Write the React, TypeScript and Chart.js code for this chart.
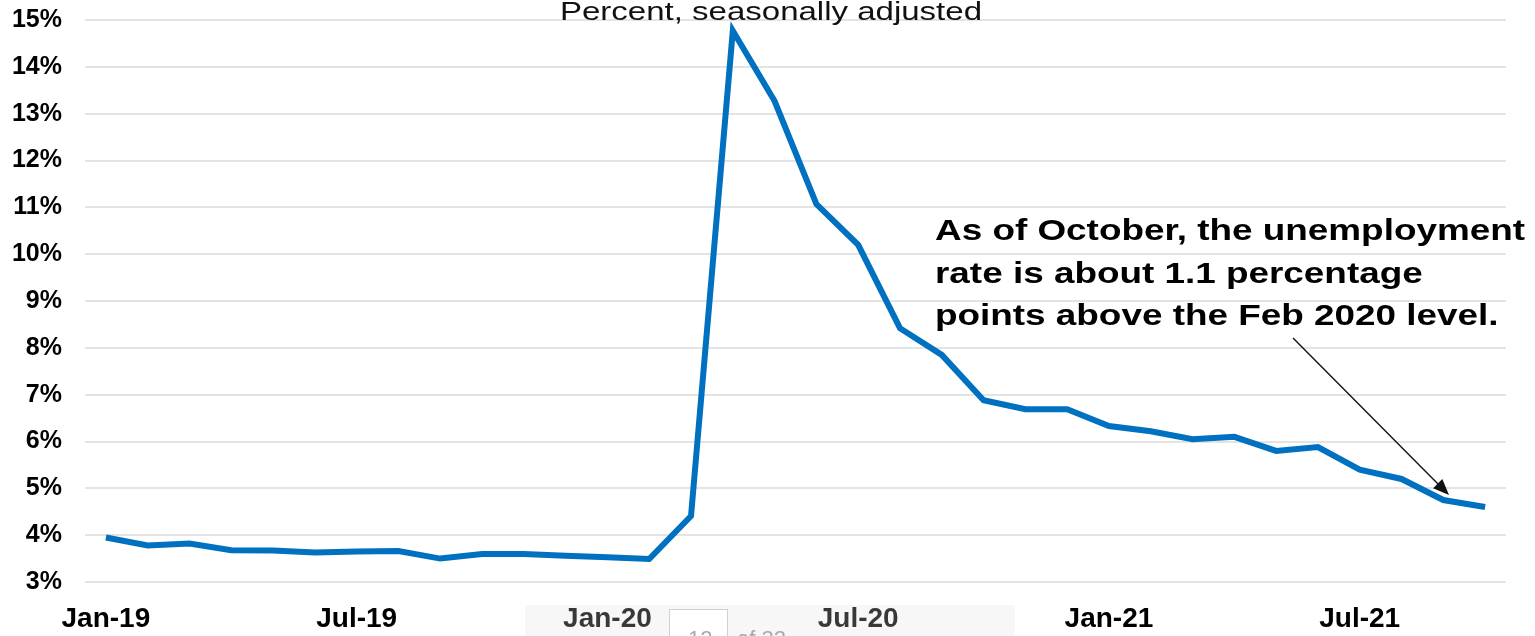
import React, { useEffect, useRef } from "react";
import { Chart, registerables } from "chart.js";

Chart.register(...registerables);

const months = [
  "Jan-19","Feb-19","Mar-19","Apr-19","May-19","Jun-19","Jul-19","Aug-19","Sep-19","Oct-19","Nov-19","Dec-19",
  "Jan-20","Feb-20","Mar-20","Apr-20","May-20","Jun-20","Jul-20","Aug-20","Sep-20","Oct-20","Nov-20","Dec-20",
  "Jan-21","Feb-21","Mar-21","Apr-21","May-21","Jun-21","Jul-21","Aug-21","Sep-21","Oct-21",
];
const unemploymentRate = [
  3.95, 3.78, 3.82, 3.68, 3.67, 3.63, 3.65, 3.66, 3.5, 3.6, 3.6, 3.56,
  3.53, 3.49, 4.41, 14.77, 13.27, 11.07, 10.2, 8.42, 7.85, 6.88, 6.69, 6.69,
  6.33, 6.22, 6.05, 6.1, 5.8, 5.88, 5.4, 5.2, 4.75, 4.6,
];
const shownTickLabels = ["Jan-19", "Jul-19", "Jan-20", "Jul-20", "Jan-21", "Jul-21"];
const yMin = 3;
const yMax = 15;
const titleText = "Percent, seasonally adjusted";
const noteLines = [
  "As of October, the unemployment",
  "rate is about 1.1 percentage",
  "points above the Feb 2020 level.",
];

const FONT = "'Liberation Sans', Arial, sans-serif";

const overlayPlugin = {
  id: "overlay",
  afterDraw(chart: any) {
    const ctx = chart.ctx;
    ctx.save();
    ctx.fillStyle = "#111";
    ctx.font = `25px ${FONT}`;
    ctx.textAlign = "left";
    ctx.textBaseline = "alphabetic";
    const tw = ctx.measureText(titleText).width;
    const tScale = 422 / tw;
    ctx.save();
    ctx.translate(560, 20);
    ctx.scale(tScale, 1);
    ctx.fillText(titleText, 0, 0);
    ctx.restore();

    ctx.font = `bold 30px ${FONT}`;
    ctx.fillStyle = "#000";
    const nScale = 590 / ctx.measureText(noteLines[0]).width;
    noteLines.forEach((t, i) => {
      ctx.save();
      ctx.translate(935, 240 + i * 42.5);
      ctx.scale(nScale, 1);
      ctx.fillText(t, 0, 0);
      ctx.restore();
    });

    const x0 = 1293, y0 = 338, x1 = 1449, y1 = 495;
    ctx.strokeStyle = "#111";
    ctx.lineWidth = 1.4;
    ctx.beginPath();
    ctx.moveTo(x0, y0);
    ctx.lineTo(x1 - 7, y1 - 7);
    ctx.stroke();
    const ang = Math.atan2(y1 - y0, x1 - x0);
    const L = 16, W = 6.5;
    ctx.fillStyle = "#111";
    ctx.beginPath();
    ctx.moveTo(x1, y1);
    ctx.lineTo(x1 - L * Math.cos(ang) + W * Math.sin(ang), y1 - L * Math.sin(ang) - W * Math.cos(ang));
    ctx.lineTo(x1 - L * Math.cos(ang) - W * Math.sin(ang), y1 - L * Math.sin(ang) + W * Math.cos(ang));
    ctx.closePath();
    ctx.fill();

    ctx.fillStyle = "rgba(222,222,222,0.25)";
    ctx.fillRect(525, 605, 490, 31);
    ctx.fillStyle = "#fff";
    ctx.fillRect(669, 609, 59, 30);
    ctx.strokeStyle = "#d0d0d0";
    ctx.lineWidth = 1;
    ctx.strokeRect(669.5, 609.5, 58, 30);
    ctx.fillStyle = "#aaa";
    ctx.font = `22px ${FONT}`;
    ctx.fillText("12", 688, 646);
    ctx.fillText("of 32", 737, 646);
    ctx.restore();
  },
};

export default function App() {
  const ref = useRef<HTMLCanvasElement | null>(null);
  useEffect(() => {
    document.body.style.margin = "0";
    const canvas = ref.current!;
    const chart = new Chart(canvas, {
      type: "line",
      data: {
        labels: months,
        datasets: [
          {
            data: unemploymentRate,
            borderColor: "#0070C0",
            borderWidth: 6,
            pointRadius: 0,
            tension: 0,
            fill: false,
          },
        ],
      },
      options: {
        animation: false,
        responsive: false,
        maintainAspectRatio: false,
        layout: { padding: { top: 20, right: 29, left: 0, bottom: 0 } },
        plugins: { legend: { display: false }, tooltip: { enabled: false }, title: { display: false } },
        scales: {
          x: {
            offset: true,
            grid: { display: false },
            border: { display: false },
            afterFit: (s: any) => { s.height = 54; s.paddingLeft = 0; s.paddingRight = 0; },
            ticks: {
              autoSkip: false,
              maxRotation: 0,
              padding: 12,
              color: "#000",
              font: { family: FONT, size: 28, weight: "bold" },
              callback: function (this: any, v: any) {
                const l = months[v as number];
                return shownTickLabels.includes(l) ? l : "";
              },
            },
          },
          y: {
            min: yMin,
            max: yMax,
            afterFit: (s: any) => { s.width = 85; s.paddingTop = 0; s.paddingBottom = 0; },
            border: { display: false },
            grid: { color: "#e4e4e4", lineWidth: 2, drawTicks: false },
            ticks: {
              stepSize: 1,
              padding: 23,
              color: "#000",
              font: { family: FONT, size: 25, weight: "bold" },
              callback: (v: any) => `${v}%`,
            },
          },
        },
      },
      plugins: [overlayPlugin],
    });
    return () => chart.destroy();
  }, []);
  return <canvas ref={ref} width={1535} height={636} style={{ display: "block" }} />;
}
